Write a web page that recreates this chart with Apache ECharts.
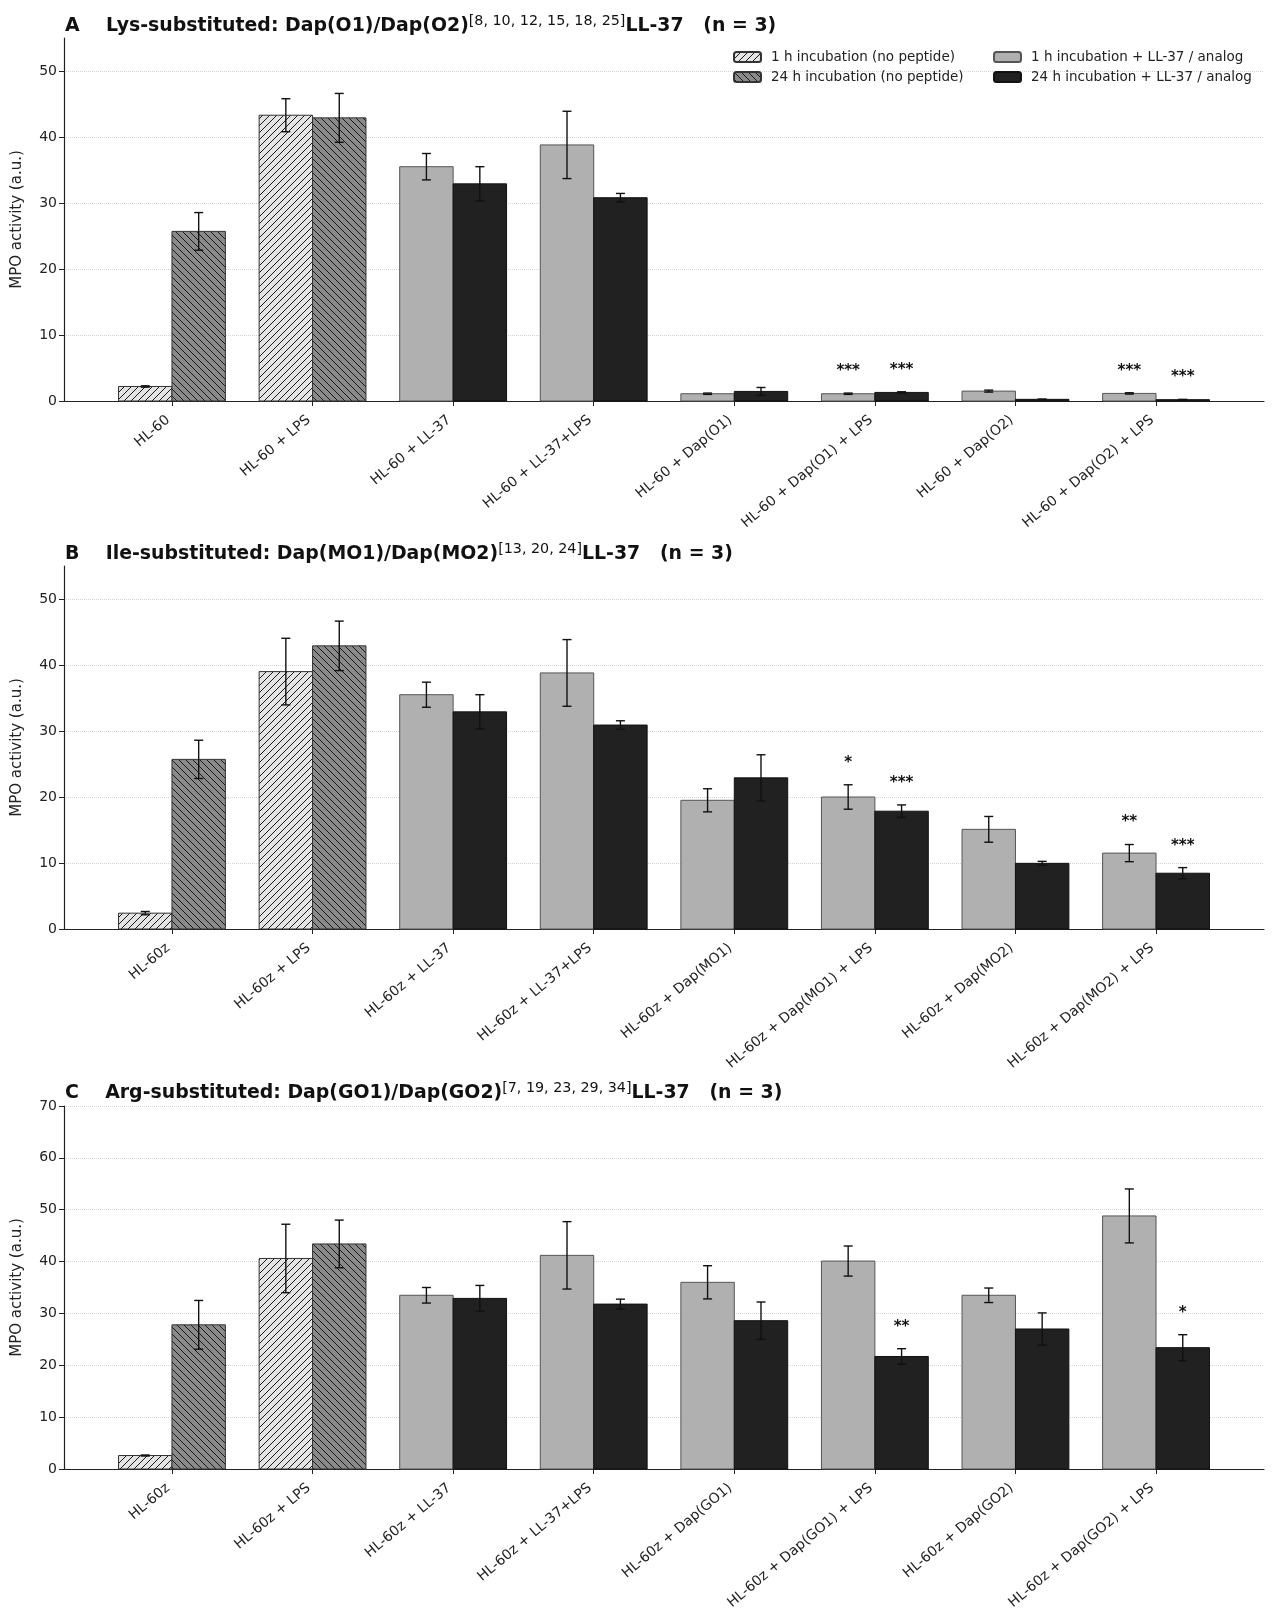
<!DOCTYPE html>
<html>
<head>
<meta charset="utf-8">
<script src="https://cdn.jsdelivr.net/npm/echarts@6/dist/echarts.min.js"></script>
<style>
  html, body { margin: 0; padding: 0; background: #fff; }
  #main { width: 1274px; height: 1614px; }
</style>
</head>
<body>
<div id="main"></div>
<script>
// ---- data ----
const catsA = ['HL-60', 'HL-60 + LPS', 'HL-60 + LL-37', 'HL-60 + LL-37+LPS',
  'HL-60 + Dap(O1)', 'HL-60 + Dap(O1) + LPS', 'HL-60 + Dap(O2)', 'HL-60 + Dap(O2) + LPS'];
const catsB = ['HL-60z', 'HL-60z + LPS', 'HL-60z + LL-37', 'HL-60z + LL-37+LPS',
  'HL-60z + Dap(MO1)', 'HL-60z + Dap(MO1) + LPS', 'HL-60z + Dap(MO2)', 'HL-60z + Dap(MO2) + LPS'];
const catsC = ['HL-60z', 'HL-60z + LPS', 'HL-60z + LL-37', 'HL-60z + LL-37+LPS',
  'HL-60z + Dap(GO1)', 'HL-60z + Dap(GO1) + LPS', 'HL-60z + Dap(GO2)', 'HL-60z + Dap(GO2) + LPS'];

// 1 h / 24 h means and error (SD)
const mean1A  = [2.2, 43.3, 35.5, 38.8, 1.1, 1.1, 1.5, 1.15];
const err1A   = [0.1, 2.5, 2.0, 5.1, 0.1, 0.1, 0.15, 0.1];
const mean24A = [25.7, 42.9, 32.9, 30.8, 1.45, 1.3, 0.25, 0.2];
const err24A  = [2.85, 3.7, 2.6, 0.65, 0.6, 0.1, 0.05, 0.05];
const sig1A   = ['', '', '', '', '', '***', '', '***'];
const sig24A  = ['', '', '', '', '', '***', '', '***'];

const mean1B  = [2.4, 39.0, 35.5, 38.8, 19.5, 20.0, 15.1, 11.5];
const err1B   = [0.25, 5.05, 1.9, 5.05, 1.75, 1.85, 1.95, 1.3];
const mean24B = [25.7, 42.9, 32.9, 30.9, 22.9, 17.85, 9.95, 8.45];
const err24B  = [2.9, 3.75, 2.6, 0.65, 3.5, 0.95, 0.3, 0.85];
const sig1B   = ['', '', '', '', '', '*', '', '**'];
const sig24B  = ['', '', '', '', '', '***', '', '***'];

const mean1C  = [2.6, 40.6, 33.5, 41.2, 36.0, 40.1, 33.5, 48.8];
const err1C   = [0.1, 6.6, 1.5, 6.5, 3.2, 2.9, 1.4, 5.2];
const mean24C = [27.8, 43.4, 32.9, 31.8, 28.6, 21.7, 27.0, 23.4];
const err24C  = [4.7, 4.6, 2.5, 0.95, 3.6, 1.5, 3.1, 2.5];
const sig1C   = ['', '', '', '', '', '', '', ''];
const sig24C  = ['', '', '', '', '', '**', '', '*'];

const yTicksAB = [0, 10, 20, 30, 40, 50];
const yTicksC = [0, 10, 20, 30, 40, 50, 60, 70];
const xTicks = [0, 1, 2, 3, 4, 5, 6, 7];

const seriesNames = ['1 h incubation (no peptide)', '24 h incubation (no peptide)',
  '1 h incubation + LL-37 / analog', '24 h incubation + LL-37 / analog'];

// ---- styling ----
const FONT = 'DejaVu Sans';
const BAR_W = 0.38;
const CAP = 4.5;

function hatch(bg, dir, step) {
  const c = document.createElement('canvas');
  c.width = step; c.height = step;
  const g = c.getContext('2d');
  g.fillStyle = bg; g.fillRect(0, 0, step, step);
  g.strokeStyle = '#1a1a1a'; g.lineWidth = 1;
  for (let k = -1; k <= 1; k++) {
    g.beginPath();
    if (dir > 0) { g.moveTo(k * step, step); g.lineTo(k * step + step, 0); }
    else { g.moveTo(k * step, 0); g.lineTo(k * step + step, step); }
    g.stroke();
  }
  return { image: c, repeat: 'repeat' };
}

const fills = [hatch('#e4e4e4', 1, 7), hatch('#8a8a8a', -1, 7), '#b0b0b0', '#212121'];
const edges = ['#333', '#333', '#555', '#111'];

function render(side, sig, k) {
  return function (params, api) {
    const i = api.value(0), v = api.value(1), e = api.value(2);
    const x0 = side < 0 ? i - BAR_W : i;
    const p0 = api.coord([x0, v]);
    const p1 = api.coord([x0 + BAR_W, 0]);
    const cx = (p0[0] + p1[0]) / 2;
    const top = api.coord([i, v + e])[1];
    const bot = api.coord([i, v - e])[1];
    const ls = { stroke: '#111', lineWidth: 1.4 };
    const children = [
      { type: 'rect', shape: { x: p0[0], y: p0[1], width: p1[0] - p0[0], height: p1[1] - p0[1] },
        style: { fill: fills[k], stroke: edges[k], lineWidth: 1 } },
      { type: 'line', shape: { x1: cx, y1: top, x2: cx, y2: bot }, style: ls },
      { type: 'line', shape: { x1: cx - CAP, y1: top, x2: cx + CAP, y2: top }, style: ls },
      { type: 'line', shape: { x1: cx - CAP, y1: bot, x2: cx + CAP, y2: bot }, style: ls }
    ];
    if (sig[i]) {
      children.push({ type: 'text', style: { text: sig[i], x: cx, y: top - 22,
        align: 'center', verticalAlign: 'middle', font: 'bold 15px "DejaVu Sans"', fill: '#111' } });
    }
    return { type: 'group', children: children };
  };
}

function panelSeries(g, m1, e1, m24, e24, s1, s24) {
  const d = [[], [], [], []];
  for (let i = 0; i < m1.length; i++) {
    const a = i < 2 ? 0 : 2;
    d[a].push([i, m1[i], e1[i]]);
    d[a + 1].push([i, m24[i], e24[i]]);
  }
  return d.map(function (data, k) {
    return {
      type: 'custom', name: seriesNames[k], xAxisIndex: g, yAxisIndex: g,
      data: data, encode: { x: 0, y: 1 },
      itemStyle: { color: fills[k], borderColor: edges[k], borderWidth: 1 },
      renderItem: render(k % 2 === 0 ? -1 : 1, k % 2 === 0 ? s1 : s24, k)
    };
  });
}

function xAx(g, cats) {
  return {
    gridIndex: g, type: 'value', min: -0.768, max: 7.768,
    axisLine: { show: true, onZero: false, lineStyle: { color: '#222', width: 1.2 } },
    axisTick: { show: true, customValues: xTicks, length: 5, lineStyle: { color: '#222' } },
    axisLabel: { customValues: xTicks, rotate: 40, margin: 14, padding: [0, 5, 0, 0],
      fontSize: 14, color: '#222', fontFamily: FONT,
      formatter: function (v) { return cats[Math.round(v)]; } },
    splitLine: { show: false }
  };
}

function yAx(g, max, ticks) {
  return {
    gridIndex: g, type: 'value', min: 0, max: max,
    name: 'MPO activity (a.u.)', nameLocation: 'middle', nameGap: 39,
    nameTextStyle: { fontSize: 15, color: '#222', fontFamily: FONT },
    axisLine: { show: true, onZero: false, lineStyle: { color: '#222', width: 1.2 } },
    axisTick: { show: true, customValues: ticks, length: 5, lineStyle: { color: '#222' } },
    axisLabel: { customValues: ticks, fontSize: 14, color: '#222', fontFamily: FONT, margin: 7 },
    splitLine: { show: true, lineStyle: { type: 'dotted', color: '#d4d4d4', width: 1 } }
  };
}

function title(top, head, sup, tail) {
  return {
    left: 60, top: top,
    text: '{b|' + head + '}{s|' + sup + '}{b|' + tail + '}',
    textStyle: { rich: {
      b: { fontSize: 18.9, fontWeight: 'bold', fontFamily: FONT, color: '#111', lineHeight: 24 },
      s: { fontSize: 14.3, fontWeight: 'normal', fontFamily: FONT, color: '#111',
        verticalAlign: 'top', lineHeight: 24, padding: [0, 0, 12, 0] }
    } }
  };
}

const legendText = { fontSize: 13.5, color: '#222', fontFamily: FONT, padding: [0, 0, 0, 5] };

const chart = echarts.init(document.getElementById('main'), null, { renderer: 'canvas' });
chart.setOption({
  animation: false,
  textStyle: { fontFamily: FONT },
  title: [
    title(9, 'A    Lys-substituted: Dap(O1)/Dap(O2)', '[8, 10, 12, 15, 18, 25]', 'LL-37   (n = 3)'),
    title(537, 'B    Ile-substituted: Dap(MO1)/Dap(MO2)', '[13, 20, 24]', 'LL-37   (n = 3)'),
    title(1076, 'C    Arg-substituted: Dap(GO1)/Dap(GO2)', '[7, 19, 23, 29, 34]', 'LL-37   (n = 3)')
  ],
  legend: [
    { left: 728, top: 45, orient: 'vertical', itemWidth: 27, itemHeight: 10, itemGap: 6,
      data: [seriesNames[0], seriesNames[1]], textStyle: legendText },
    { left: 988, top: 45, orient: 'vertical', itemWidth: 27, itemHeight: 10, itemGap: 6,
      data: [seriesNames[2], seriesNames[3]], textStyle: legendText }
  ],
  grid: [
    { left: 64, top: 38, width: 1200, height: 363, outerBoundsMode: 'none' },
    { left: 64, top: 566, width: 1200, height: 363, outerBoundsMode: 'none' },
    { left: 64, top: 1106, width: 1200, height: 363, outerBoundsMode: 'none' }
  ],
  xAxis: [xAx(0, catsA), xAx(1, catsB), xAx(2, catsC)],
  yAxis: [yAx(0, 55, yTicksAB), yAx(1, 55, yTicksAB), yAx(2, 70, yTicksC)],
  series: [].concat(
    panelSeries(0, mean1A, err1A, mean24A, err24A, sig1A, sig24A),
    panelSeries(1, mean1B, err1B, mean24B, err24B, sig1B, sig24B),
    panelSeries(2, mean1C, err1C, mean24C, err24C, sig1C, sig24C)
  )
});
</script>
</body>
</html>
